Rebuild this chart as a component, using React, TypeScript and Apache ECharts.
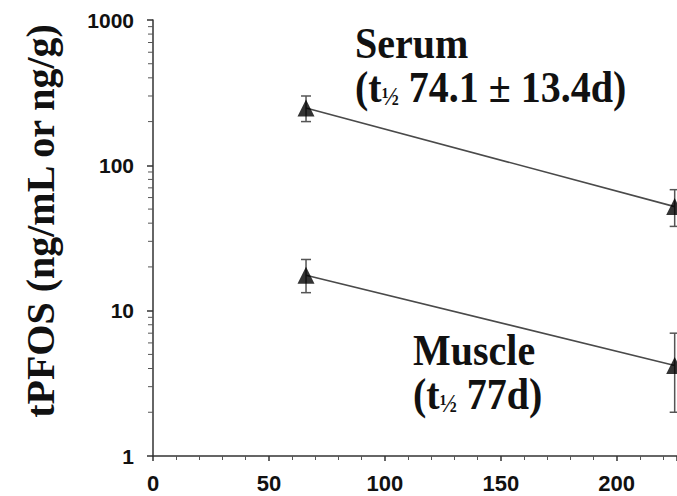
import React, { useEffect, useRef } from "react";
import * as echarts from "echarts";

const days = [66, 225];
const serumMean = [248, 52];
const serumLow = [200, 38];
const serumHigh = [300, 68];
const muscleMean = [17.5, 4.2];
const muscleLow = [13.3, 2.0];
const muscleHigh = [22.5, 7.0];
const xTicks = [0, 50, 100, 150, 200];
const yTicks = [1, 10, 100, 1000];

const serif = "'Liberation Serif', 'DejaVu Serif', serif";
const sans = "'Liberation Sans', Arial, sans-serif";

export default function App() {
  const ref = useRef<HTMLDivElement>(null);
  useEffect(() => {
    if (!ref.current) return;
    const chart = echarts.init(ref.current, null, { renderer: "svg" });
    const minorVals: number[] = [];
    for (let d = 0; d < yTicks.length - 1; d++) {
      for (let k = 2; k <= 9; k++) minorVals.push(k * yTicks[d]);
    }
    const errData = (lo: number[], hi: number[]) => days.map((d, i) => [d, lo[i], hi[i]]);
    const errSeries = (name: string, lo: number[], hi: number[]) => ({
      type: "custom",
      name,
      data: errData(lo, hi),
      clip: false,
      z: 3,
      renderItem: (params: any, api: any) => {
        const x = api.value(0);
        const a = api.coord([x, api.value(1)]);
        const b = api.coord([x, api.value(2)]);
        const cw = 5;
        const st = { stroke: "#555", lineWidth: 1.5 };
        return {
          type: "group",
          children: [
            { type: "line", shape: { x1: a[0], y1: a[1], x2: b[0], y2: b[1] }, style: st },
            { type: "line", shape: { x1: a[0] - cw, y1: a[1], x2: a[0] + cw, y2: a[1] }, style: st },
            { type: "line", shape: { x1: b[0] - cw, y1: b[1], x2: b[0] + cw, y2: b[1] }, style: st },
          ],
        };
      },
    });
    const richStyle = {
      h: { fontFamily: serif, fontWeight: "bold", fontSize: 23, fill: "#111", verticalAlign: "bottom", lineHeight: 40 },
      b: { fontFamily: serif, fontWeight: "bold", fontSize: 40, fill: "#111", lineHeight: 40 },
    };
    const option: any = {
      animation: false,
      backgroundColor: "#fff",
      grid: { left: 153, right: 0, top: 20, bottom: 40, containLabel: false },
      xAxis: {
        type: "value",
        min: 0,
        max: 226,
        interval: 50,
        splitLine: { show: false },
        axisLine: { lineStyle: { color: "#333", width: 1.5 } },
        axisTick: { length: 5, lineStyle: { color: "#333", width: 1.5 } },
        minorTick: { show: true, splitNumber: 5, length: 4, lineStyle: { color: "#555", width: 1 } },
        axisLabel: {
          showMaxLabel: false,
          color: "#111",
          fontFamily: sans,
          fontWeight: "bold",
          fontSize: 22,
          margin: 16,
          formatter: (v: number) => String(v),
        },
      },
      yAxis: {
        type: "log",
        logBase: 10,
        min: 1,
        max: 1000,
        splitLine: { show: false },
        axisLine: { onZero: false, lineStyle: { color: "#333", width: 1.5 } },
        axisTick: { length: 6, lineStyle: { color: "#333", width: 1.5 } },
        axisLabel: {
          color: "#111",
          fontFamily: sans,
          fontWeight: "bold",
          fontSize: 21,
          margin: 19,
          formatter: (v: number) => String(Math.round(v)),
        },
      },
      series: [
        {
          type: "custom",
          name: "minorTicks",
          data: minorVals.map((v) => [0, v]),
          clip: false,
          silent: true,
          renderItem: (params: any, api: any) => {
            const p = api.coord([0, api.value(1)]);
            return {
              type: "line",
              shape: { x1: p[0] - 5, y1: p[1], x2: p[0], y2: p[1] },
              style: { stroke: "#555", lineWidth: 1 },
            };
          },
        },
        {
          type: "line",
          name: "Serum fit",
          data: days.map((d, i) => [d, serumMean[i]]),
          showSymbol: false,
          symbol: "none",
          lineStyle: { color: "#4a4a4a", width: 1.6 },
          clip: false,
        },
        {
          type: "line",
          name: "Muscle fit",
          data: days.map((d, i) => [d, muscleMean[i]]),
          showSymbol: false,
          symbol: "none",
          lineStyle: { color: "#4a4a4a", width: 1.6 },
          clip: false,
        },
        errSeries("Serum err", serumLow, serumHigh),
        errSeries("Muscle err", muscleLow, muscleHigh),
        {
          type: "scatter",
          name: "Serum",
          data: days.map((d, i) => [d, serumMean[i]]),
          symbol: "triangle",
          symbolSize: [17, 17],
          itemStyle: { color: "#000" },
          clip: false,
          z: 4,
        },
        {
          type: "scatter",
          name: "Muscle",
          data: days.map((d, i) => [d, muscleMean[i]]),
          symbol: "triangle",
          symbolSize: [17, 17],
          itemStyle: { color: "#000" },
          clip: false,
          z: 4,
        },
      ],
      graphic: [
        {
          type: "text",
          x: 40,
          y: 221,
          rotation: Math.PI / 2,
          style: {
            text: "tPFOS (ng/mL or ng/g)",
            fontFamily: serif,
            fontWeight: "bold",
            fontSize: 40,
            fill: "#111",
            align: "center",
            verticalAlign: "middle",
          },
        },
        {
          type: "text",
          x: 355,
          y: 21,
          scaleY: 1.1,
          style: {
            text: "{b|Serum}\n{b|(t}{h|½}{b| 74.1 ± 13.4d)}",
            fontFamily: serif,
            fontWeight: "bold",
            fontSize: 40,
            lineHeight: 40,
            fill: "#111",
            verticalAlign: "top",
            rich: richStyle,
          },
        },
        {
          type: "text",
          x: 413,
          y: 328,
          scaleY: 1.1,
          style: {
            text: "{b|Muscle}\n{b|(t}{h|½}{b| 77d)}",
            fontFamily: serif,
            fontWeight: "bold",
            fontSize: 40,
            lineHeight: 40,
            fill: "#111",
            verticalAlign: "top",
            rich: richStyle,
          },
        },
      ],
    };
    chart.setOption(option);
    return () => chart.dispose();
  }, []);
  return (
    <div
      ref={ref}
      style={{ position: "absolute", left: 0, top: 0, width: 677, height: 496, background: "#fff" }}
    />
  );
}
